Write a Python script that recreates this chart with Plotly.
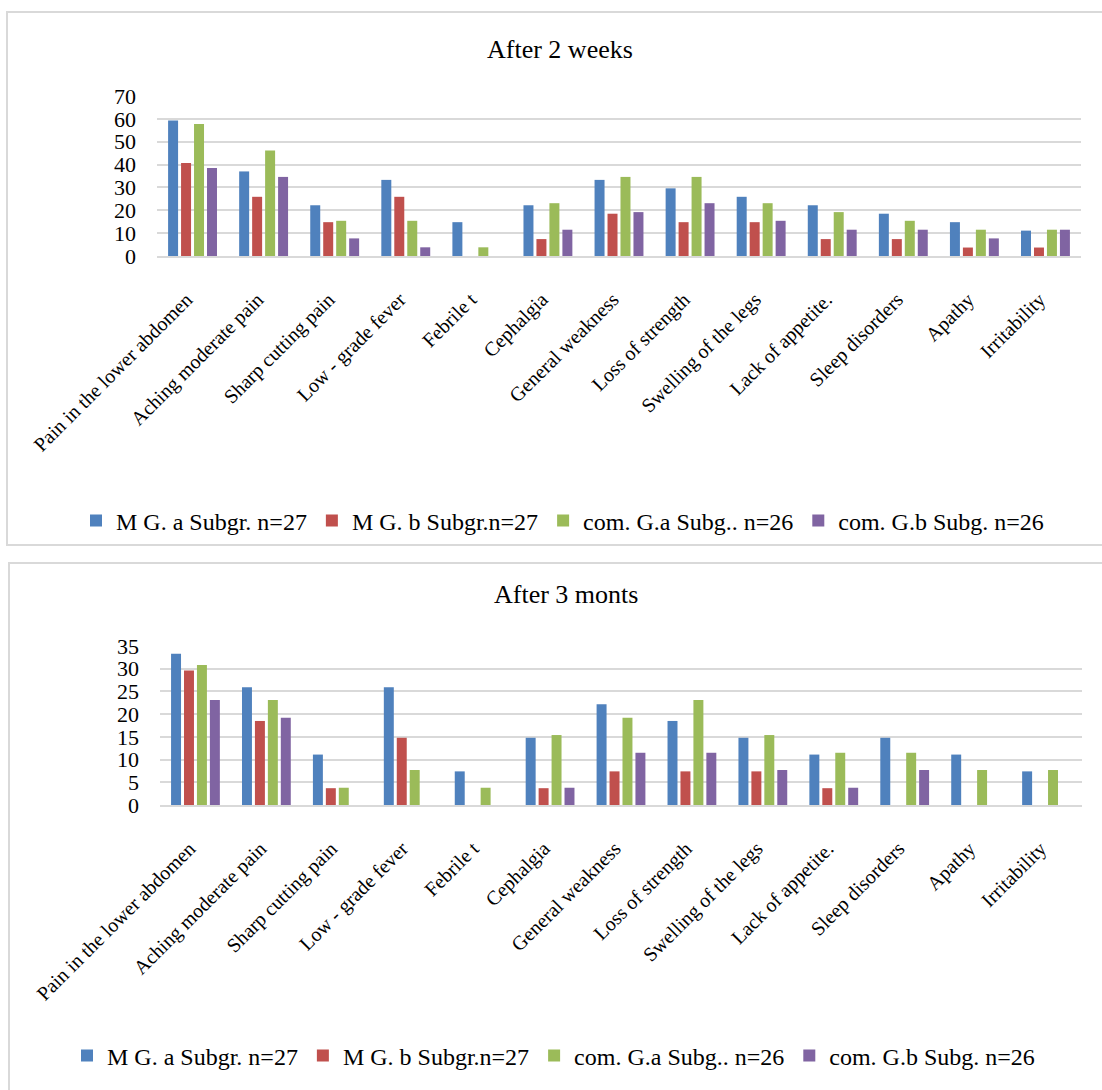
import plotly.graph_objects as go

W, H = 1102, 1090

categories = [
    "Pain in the lower abdomen", "Aching moderate pain", "Sharp cutting pain",
    "Low - grade fever", "Febrile t", "Cephalgia", "General weakness",
    "Loss of strength", "Swelling of the legs", "Lack of appetite.",
    "Sleep disorders", "Apathy", "Irritability",
]
series_names = ["M G. a Subgr. n=27", "M G. b Subgr.n=27",
                "com. G.a Subg.. n=26", "com. G.b Subg. n=26"]
series_colors = ["#4F81BD", "#C0504D", "#9BBB59", "#8064A2"]

# After 2 weeks (%)
mg_a_2w = [59.3, 37.0, 22.2, 33.3, 14.8, 22.2, 33.3, 29.6, 25.9, 22.2, 18.5, 14.8, 11.1]
mg_b_2w = [40.7, 25.9, 14.8, 25.9, 0, 7.4, 18.5, 14.8, 14.8, 7.4, 7.4, 3.7, 3.7]
com_a_2w = [57.7, 46.2, 15.4, 15.4, 3.8, 23.1, 34.6, 34.6, 23.1, 19.2, 15.4, 11.5, 11.5]
com_b_2w = [38.5, 34.6, 7.7, 3.8, 0, 11.5, 19.2, 23.1, 15.4, 11.5, 11.5, 7.7, 11.5]

# After 3 months (%)
mg_a_3m = [33.3, 25.9, 11.1, 25.9, 7.4, 14.8, 22.2, 18.5, 14.8, 11.1, 14.8, 11.1, 7.4]
mg_b_3m = [29.6, 18.5, 3.7, 14.8, 0, 3.7, 7.4, 7.4, 7.4, 3.7, 0, 0, 0]
com_a_3m = [30.8, 23.1, 3.8, 7.7, 3.8, 15.4, 19.2, 23.1, 15.4, 11.5, 11.5, 7.7, 7.7]
com_b_3m = [23.1, 19.2, 0, 0, 0, 3.8, 11.5, 11.5, 7.7, 3.8, 7.7, 0, 0]

titles = ["After 2 weeks", "After 3 monts"]
y_ticks_2w = [0, 10, 20, 30, 40, 50, 60, 70]
y_ticks_3m = [0, 5, 10, 15, 20, 25, 30, 35]

FONT = "Liberation Serif"
GRID = "#D9D9D9"


def px_x(p):
    return p / W


def px_y(p):
    return 1 - p / H


fig = go.Figure()

panels = [
    dict(data=[mg_a_2w, mg_b_2w, com_a_2w, com_b_2w], xa="x", ya="y", legend="legend"),
    dict(data=[mg_a_3m, mg_b_3m, com_a_3m, com_b_3m], xa="x2", ya="y2", legend="legend2"),
]

for panel in panels:
    for name, color, vals in zip(series_names, series_colors, panel["data"]):
        fig.add_trace(go.Bar(
            x=categories, y=vals, name=name,
            marker=dict(color=color, line=dict(width=0)),
            xaxis=panel["xa"], yaxis=panel["ya"], legend=panel["legend"],
        ))

axis_common = dict(
    showgrid=False, showline=True, linecolor=GRID, linewidth=2,
    ticks="", tickangle=-45, tickfont=dict(family=FONT, size=20, color="#000"),
    ticklabelstandoff=22, ticklabelshift=-6,
    automargin=False, fixedrange=True,
)
yaxis_common = dict(
    showgrid=True, gridcolor=GRID, gridwidth=2, zeroline=False, showline=False,
    ticks="", tickfont=dict(family=FONT, size=22, color="#000"),
    ticklabelstandoff=20, automargin=False, fixedrange=True,
)
legend_common = dict(
    orientation="h", xanchor="left", yanchor="middle",
    font=dict(family=FONT, size=24, color="#000"),
    bgcolor="rgba(0,0,0,0)", itemclick=False, itemdoubleclick=False,
)

fig.update_layout(
    width=W, height=H,
    font=dict(family=FONT, color="#000"),
    margin=dict(l=0, r=0, t=0, b=0, autoexpand=False),
    paper_bgcolor="white", plot_bgcolor="white",
    barmode="group", bargap=0.27, bargroupgap=0.23,
    showlegend=True,
    xaxis=dict(axis_common, domain=[px_x(157), px_x(1081)], anchor="y"),
    yaxis=dict(yaxis_common, domain=[px_y(256), px_y(96)], range=[0, 70],
               tickvals=y_ticks_2w, anchor="x"),
    xaxis2=dict(axis_common, domain=[px_x(160), px_x(1082)], anchor="y2"),
    yaxis2=dict(yaxis_common, domain=[px_y(805), px_y(646)], range=[0, 35],
                tickvals=y_ticks_3m, anchor="x2"),
    legend=dict(legend_common, x=px_x(76), y=px_y(521)),
    legend2=dict(legend_common, x=px_x(67), y=px_y(1056)),
    annotations=[
        dict(text=titles[0], x=px_x(560), y=px_y(50), xref="paper", yref="paper",
             xanchor="center", yanchor="middle", showarrow=False,
             font=dict(family=FONT, size=26, color="#000")),
        dict(text=titles[1], x=px_x(566), y=px_y(594), xref="paper", yref="paper",
             xanchor="center", yanchor="middle", showarrow=False,
             font=dict(family=FONT, size=26, color="#000")),
    ],
    shapes=[
        # chart frames
        dict(type="rect", xref="paper", yref="paper", x0=px_x(7), x1=px_x(1110),
             y0=px_y(545), y1=px_y(12), line=dict(color=GRID, width=2),
             fillcolor="rgba(0,0,0,0)", layer="below"),
        dict(type="rect", xref="paper", yref="paper", x0=px_x(9), x1=px_x(1110),
             y0=px_y(1100), y1=px_y(563), line=dict(color=GRID, width=2),
             fillcolor="rgba(0,0,0,0)", layer="below"),
    ],
)

fig.write_html("out.html")
